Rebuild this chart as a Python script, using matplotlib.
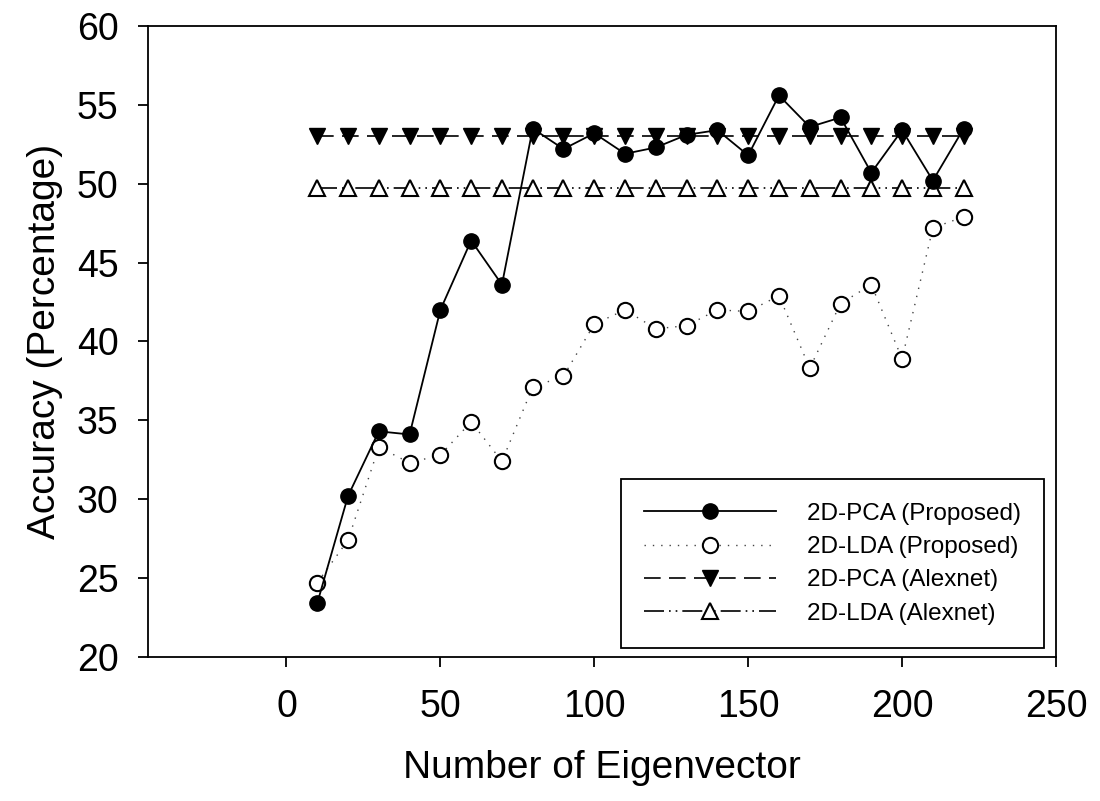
import matplotlib
matplotlib.use("Agg")
import matplotlib.pyplot as plt
import numpy as np

plt.rcParams['font.family'] = ['Liberation Sans', 'DejaVu Sans']

# number of eigenvectors
n_eig = [10, 20, 30, 40, 50, 60, 70, 80, 90, 100, 110,
         120, 130, 140, 150, 160, 170, 180, 190, 200, 210, 220]

# accuracies
pca_proposed = [23.4, 30.2, 34.3, 34.1, 42.0, 46.4, 43.6, 53.5, 52.2, 53.2, 51.9,
                52.3, 53.1, 53.4, 51.8, 55.6, 53.6, 54.2, 50.7, 53.4, 50.2, 53.5]
lda_proposed = [24.7, 27.4, 33.3, 32.3, 32.8, 34.9, 32.4, 37.1, 37.8, 41.1, 42.0,
                40.8, 41.0, 42.0, 41.9, 42.9, 38.3, 42.4, 43.6, 38.9, 47.2, 47.9]
pca_alexnet = [53.0] * len(n_eig)
lda_alexnet = [49.7] * len(n_eig)

labels = ['2D-PCA (Proposed)', '2D-LDA (Proposed)', '2D-PCA (Alexnet)', '2D-LDA (Alexnet)']

fig = plt.figure(figsize=(11, 8.01), dpi=100)
ax = fig.add_axes([0.1345, 0.18, 0.8255, 0.7875])

ax.plot(n_eig, pca_proposed, color='black', lw=1.3, marker='o', ms=11,
        mfc='black', mec='black', label=labels[0], zorder=5)
ax.plot(n_eig, lda_proposed, color='#444444', lw=1.0, ls=(0, (1, 5)), marker='o', ms=11,
        mfc='white', mec='black', mew=1.5, label=labels[1], zorder=4)
ax.plot(n_eig, pca_alexnet, color='black', lw=1.2, ls=(0, (10, 5)), marker='v', ms=11.5,
        mfc='black', mec='black', label=labels[2], zorder=3)
ax.plot(n_eig, lda_alexnet, color='black', lw=1.2, ls=(0, (12, 3, 1, 3, 1, 3)), marker='^', ms=11.5,
        mfc='white', mec='black', mew=1.5, label=labels[3], zorder=3)

ax.set_xlim(-45, 250)
ax.set_ylim(20, 60)
ax.set_xticks(np.arange(0, 251, 50))
ax.set_yticks(np.arange(20, 61, 5))

for s in ax.spines.values():
    s.set_linewidth(1.3)
ax.tick_params(direction='out', length=7, width=1.3, labelsize=27)
ax.tick_params(axis='x', pad=16)
ax.tick_params(axis='y', pad=14)

ax.set_xlabel('Number of Eigenvector', fontsize=28, labelpad=18)
ax.set_ylabel('Accuracy (Percentage)', fontsize=28, labelpad=10)

leg = ax.legend(loc='lower right', bbox_to_anchor=(0.987, 0.014), borderaxespad=0,
                numpoints=1, fontsize=17.5, handlelength=5.4, handletextpad=1.3,
                labelspacing=0.47, fancybox=False, framealpha=1, borderpad=0.95)
leg.get_frame().set_edgecolor('black')
leg.get_frame().set_linewidth(1.3)

fig.savefig('out.png', dpi=100)
